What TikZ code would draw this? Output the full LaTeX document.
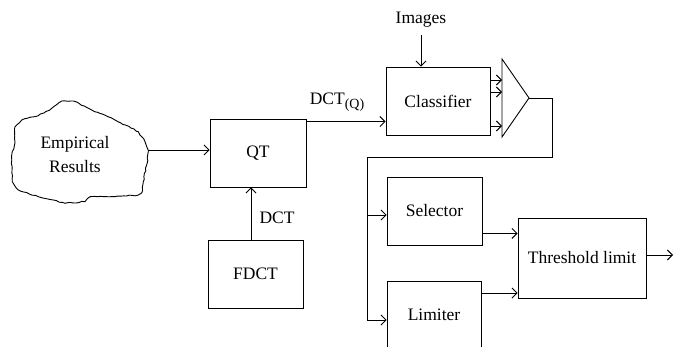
\documentclass[tikz,border=0pt]{standalone}
\usepackage{fontspec}
\setmainfont{Liberation Serif}
\usetikzlibrary{arrows.meta,calc,decorations.pathmorphing}
\begin{document}
\begin{tikzpicture}[x=1pt,y=-1pt,
  every node/.style={font=\rmfamily\fontsize{17.5}{24}\selectfont, text=black},
  box/.style={draw, line width=0.9pt, inner sep=0pt},
  ln/.style={line width=0.9pt},
  arr/.style={line width=0.9pt, -{Straight Barb[length=5pt,width=10pt,line width=0.9pt]}}]
\useasboundingbox (0,0) rectangle (674,347);
\clip (0,0) rectangle (674,347);
% cloud
\pgfmathsetseed{7}
\draw[ln, decorate, decoration={random steps, segment length=3pt, amplitude=0.6pt}]
  (61.7,101) -- (73.3,101) -- (91.7,110) -- (115,120) -- (138.3,131.7) -- (145,141.7)
  -- (148.3,151.7) -- (146.7,165) -- (143.3,181.7) -- (141.7,193) -- (138.3,195)
  -- (115,196.7) -- (90,196.7) -- (85,201.7) -- (65,203.3) -- (38.3,196.7)
  -- (18.3,190) -- (12.3,181.7) -- (11.7,155) -- (15,141.7) -- (15,126.7)
  -- (21.7,120) -- (38.3,115.7) -- (51.7,108.3) -- cycle;
\node[align=center] (cloud) at (75,155) {Empirical\\Results};
\coordinate (cloudE) at (148,150);
% boxes
\node[box, minimum width=96pt, minimum height=68pt] (QT) at (258,153) {QT};
\node[box, minimum width=95pt, minimum height=68pt] (FDCT) at (255.5,274) {FDCT};
\node[box, minimum width=104pt, minimum height=68pt] (CL) at (438,101) {Classifier};
\node[box, minimum width=95pt, minimum height=68pt] (SEL) at (434.5,211) {Selector};
\node[box, minimum width=94pt, minimum height=68pt] (LIM) at (434,315) {Limiter};
\node[box, minimum width=128pt, minimum height=80pt] (TH) at (582,258) {Threshold limit};
% labels
\node (img) at (421,20) {Images};
\node (dctq) at (337,102) {DCT\raisebox{-4pt}{\fontsize{14}{14}\selectfont(Q)}};
\node (dct) at (277,218) {DCT};
% triangle
\coordinate (triT) at (502,59);
\coordinate (triB) at (502,137);
\coordinate (triA) at (529,98);
\draw[ln, line join=miter] (triT) -- (triA) -- (triB) -- cycle;
% connectors
\draw[arr] (cloudE) -- (QT.west |- cloudE);
\coordinate (qo) at ($(QT.north east)+(0,3)$);
\draw[arr] (qo) -- (CL.west |- qo);
\coordinate (fo) at ($(FDCT.north)+(-4.5,0)$);
\draw[arr] (fo) -- (QT.south -| fo);
\coordinate (io) at (421,35);
\draw[arr] (io) -- (CL.north -| io);
\foreach \yy/\nm in {80/a,92/b,126/c}{
  \coordinate (co\nm) at (CL.east |- 0,\yy);
  \draw[arr] (co\nm) -- (triT |- co\nm);
}
\coordinate (fb1) at (552,98);
\coordinate (fb2) at (552,157);
\coordinate (fb3) at (367,157);
\coordinate (fb4) at (367,320);
\coordinate (fb5) at (367,215);
\draw[ln] (triA) -- (fb1) -- (fb2) -- (fb3) -- (fb4);
\draw[arr] (fb4) -- (LIM.west |- fb4);
\draw[arr] (fb5) -- (SEL.west |- fb5);
\coordinate (so) at ($(SEL.south east)+(0,-12)$);
\draw[arr] (so) -- (TH.west |- so);
\coordinate (lo) at (LIM.east |- 0,293);
\draw[arr] (lo) -- (TH.west |- lo);
\coordinate (to) at ($(TH.east)+(0,-3)$);
\coordinate (tend) at (673,255);
\draw[arr] (to) -- (tend);
\end{tikzpicture}
\end{document}
